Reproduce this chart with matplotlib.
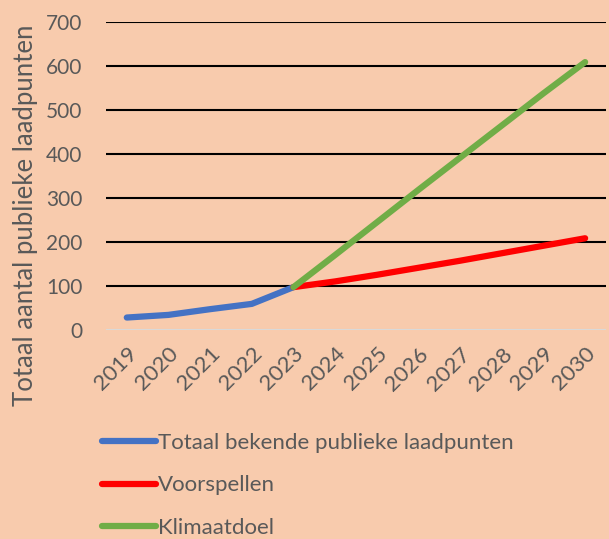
import matplotlib.pyplot as plt
import numpy as np

plt.rcParams['font.family'] = ['Lato', 'DejaVu Sans']

years = ['2019', '2020', '2021', '2022', '2023', '2024',
         '2025', '2026', '2027', '2028', '2029', '2030']
bekend = [28, 34, 47, 59, 97]
voorspelling = [97, 110, 125, 141, 157, 174, 191, 208]
klimaatdoel = [97, 170, 244, 318, 391, 464, 537, 608]

bg = '#F8CBAD'
grey = '#595959'

fig = plt.figure(figsize=(6.09, 5.39), dpi=100, facecolor=bg)
ax = fig.add_axes([0.174, 0.388, 0.821, 0.572], facecolor=bg)

x = np.arange(len(years))
ax.plot(x[:5], bekend, color='#4472C4', lw=4.5, solid_capstyle='round',
        label='Totaal bekende publieke laadpunten', zorder=3)
ax.plot(x[4:], voorspelling, color='#FF0000', lw=4.5, solid_capstyle='round',
        label='Voorspellen', zorder=3)
ax.plot(x[4:], klimaatdoel, color='#70AD47', lw=4.5, solid_capstyle='round',
        label='Klimaatdoel', zorder=4)

ax.set_xlim(-0.5, len(years) - 0.5)
ax.set_ylim(0, 700)
ax.set_yticks(np.arange(0, 701, 100))
ax.set_xticks(x)
ax.set_xticklabels(years, rotation=45, ha='right', rotation_mode='anchor')

# black gridlines, light zero line
for v in range(100, 701, 100):
    ax.axhline(v, color='black', lw=1.5, zorder=1)
ax.axhline(0, color='#D9D9D9', lw=1.5, zorder=1)

for s in ax.spines.values():
    s.set_visible(False)
ax.tick_params(axis='both', length=0, colors=grey)
ax.tick_params(axis='y', pad=17, labelsize=15)
ax.tick_params(axis='x', pad=10, labelsize=16)
ax.set_ylabel('Totaal aantal publieke laadpunten', fontsize=18.5, color=grey)
ax.yaxis.set_label_coords(-0.136, 0.371)

fig.legend(loc='upper left', bbox_to_anchor=(0.15, 0.217), frameon=False,
           fontsize=16, labelcolor=grey, handlelength=2.4, handletextpad=0.1,
           labelspacing=1.0, borderpad=0)

fig.savefig('out.png', dpi=100, facecolor=bg)
